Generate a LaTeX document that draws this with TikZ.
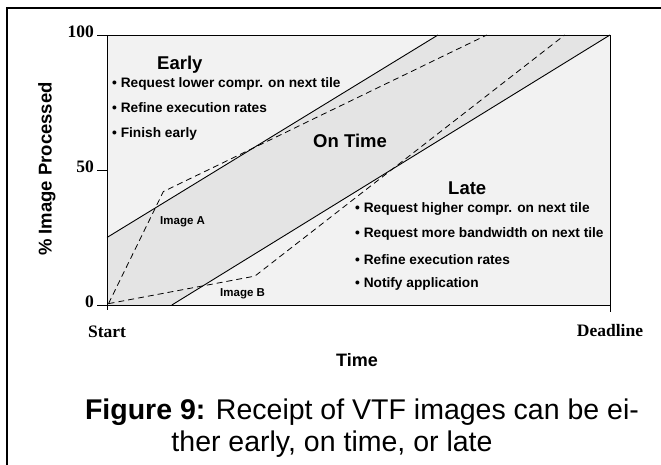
\documentclass[tikz,border=0pt]{standalone}
\usepackage{fontspec}
\setmainfont{Liberation Sans}
\newfontfamily\timesfont{Liberation Serif}
\usetikzlibrary{calc}
\definecolor{outsidegray}{gray}{0.95}
\definecolor{bandgray}{gray}{0.895}

\tikzset{
  region/.style={font=\fontsize{18.5}{20}\selectfont\bfseries, anchor=base west, inner sep=0pt},
  todo/.style={font=\fontsize{13.7}{16}\selectfont\bfseries, anchor=base west, inner sep=0pt},
  imglabel/.style={font=\fontsize{11.5}{13}\selectfont\bfseries, anchor=base west, inner sep=0pt},
  axnum/.style={font=\timesfont\fontsize{17.5}{20}\selectfont\bfseries, inner sep=0pt},
  solidline/.style={line width=0.9pt},
  dashline/.style={line width=0.8pt, dash pattern=on 6pt off 4pt},
}

\begin{document}
\begin{tikzpicture}[x=1pt, y=1pt]
	\useasboundingbox (0,0) rectangle (661,465);

	% frame
	\coordinate (fbot) at (7,0);
	\coordinate (fcorner) at (7,457);
	\coordinate (fright) at (661,457);
	\draw[line width=2.5pt] (fbot) -- (fcorner) -- (fright);

	% plot area, data in percent
	\begin{scope}[shift={(107pt,160pt)}, x=5.03pt, y=2.70pt]
		\coordinate (ll) at (0,0);
		\coordinate (ur) at (100,100);
		\coordinate (upA) at (0,25);
		\coordinate (upB) at (65.8,100);
		\coordinate (loA) at (12.9,0);
		\coordinate (imgA0) at (0.3,0.5);
		\coordinate (imgA1) at (11.2,42);
		\coordinate (imgA2) at (75.5,100);
		\coordinate (imgB0) at (0.3,0.5);
		\coordinate (imgB1) at (29.4,10.7);
		\coordinate (imgB2) at (91,100);

		\fill[outsidegray] (ll) rectangle (ur);
		\fill[bandgray] (ll) -- (upA) -- (upB) -- (ur) -- (loA) -- cycle;

		\draw[solidline] (upA) -- (upB);
		\draw[solidline] (loA) -- (ur);
		\draw[dashline] (imgA0) -- (imgA1) -- (imgA2);
		\draw[dashline] (imgB0) -- (imgB1) -- (imgB2);

		\draw[line width=0.8pt] (ll) rectangle (ur);
	\end{scope}

	% ticks
	\draw[line width=0.8pt] (97,430) -- (107,430);
	\draw[line width=0.8pt] (97,295) -- (107,295);
	\draw[line width=0.8pt] (97,160) -- (107,160);
	\draw[line width=0.8pt] (107,160) -- (107,155);
	\draw[line width=0.8pt] (610,160) -- (610,153);

	% axis labels
	\node[axnum, anchor=mid east] (y100) at (94,430) {100};
	\node[axnum, anchor=mid east] (y50) at (94,295) {50};
	\node[axnum, anchor=mid east] (y0) at (94,160) {0};
	\node[axnum, anchor=base] (start) at (107,127) {Start};
	\node[axnum, anchor=base] (deadline) at (610,128) {Deadline};
	\node[font=\fontsize{18}{20}\selectfont\bfseries, anchor=base, inner sep=0pt] (time) at (357,98) {Time};
	\node[font=\fontsize{18.5}{20}\selectfont\bfseries, rotate=90, inner sep=0pt] (ylab) at (47,296) {\% Image Processed};

	% regions
	\node[region] (early) at (157,395) {Early};
	\node[todo] (e1) at (112,377) {\textbullet\ Request lower compr. on next tile};
	\node[todo] (e2) at (112,352) {\textbullet\ Refine execution rates};
	\node[todo] (e3) at (112,327) {\textbullet\ Finish early};

	\node[region] (ontime) at (313,317) {On Time};

	\node[region] (late) at (448,270) {Late};
	\node[todo] (l1) at (355,252) {\textbullet\ Request higher compr. on next tile};
	\node[todo] (l2) at (355,227) {\textbullet\ Request more bandwidth on next tile};
	\node[todo] (l3) at (355,200) {\textbullet\ Refine execution rates};
	\node[todo] (l4) at (355,177) {\textbullet\ Notify application};

	\node[imglabel] (labA) at (160,240) {Image A};
	\node[imglabel] (labB) at (220,168) {Image B};

	% caption
	\node[font=\fontsize{28.5}{32}\selectfont, anchor=base, inner sep=0pt] (cap1) at (362,45) {\textbf{Figure 9:} Receipt of VTF images can be ei-};
	\node[font=\fontsize{28.5}{32}\selectfont, anchor=base, inner sep=0pt] (cap2) at (332,13) {ther early, on time, or late};
\end{tikzpicture}
\end{document}
